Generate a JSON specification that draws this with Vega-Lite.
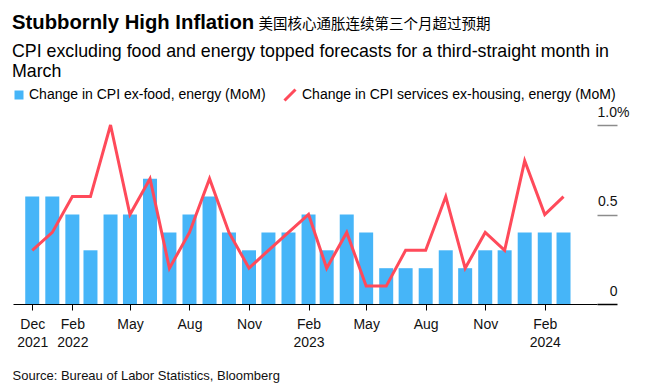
{
  "$schema": "https://vega.github.io/schema/vega-lite/v6.json",
  "autosize": "none",
  "width": 584,
  "height": 179,
  "padding": {"left": 13, "top": 125, "right": 49, "bottom": 85},
  "background": "#ffffff",
  "config": {
    "view": {"stroke": null},
    "font": "Liberation Sans"
  },
  "title": {
    "text": "Stubbornly High Inflation",
    "subtitle": ["CPI excluding food and energy topped forecasts for a third-straight month in", "March"],
    "anchor": "start",
    "frame": "group",
    "font": "Liberation Sans",
    "fontSize": 20.3,
    "fontWeight": "bold",
    "color": "#000000",
    "subtitleFont": "Liberation Sans",
    "subtitleFontSize": 17.8,
    "subtitleColor": "#000000",
    "subtitleLineHeight": 20,
    "subtitlePadding": 9,
    "offset": -64.5,
    "dx": -1
  },
  "data": {
    "values": [
      {"date": "2021-12-01T00:00:00", "core": 0.6, "services": 0.3},
      {"date": "2022-01-01T00:00:00", "core": 0.6, "services": 0.4},
      {"date": "2022-02-01T00:00:00", "core": 0.5, "services": 0.6},
      {"date": "2022-03-01T00:00:00", "core": 0.3, "services": 0.6},
      {"date": "2022-04-01T00:00:00", "core": 0.5, "services": 1.0},
      {"date": "2022-05-01T00:00:00", "core": 0.5, "services": 0.5},
      {"date": "2022-06-01T00:00:00", "core": 0.7, "services": 0.7},
      {"date": "2022-07-01T00:00:00", "core": 0.4, "services": 0.2},
      {"date": "2022-08-01T00:00:00", "core": 0.5, "services": 0.4},
      {"date": "2022-09-01T00:00:00", "core": 0.6, "services": 0.7},
      {"date": "2022-10-01T00:00:00", "core": 0.4, "services": 0.4},
      {"date": "2022-11-01T00:00:00", "core": 0.3, "services": 0.2},
      {"date": "2022-12-01T00:00:00", "core": 0.4, "services": 0.3},
      {"date": "2023-01-01T00:00:00", "core": 0.4, "services": 0.4},
      {"date": "2023-02-01T00:00:00", "core": 0.5, "services": 0.5},
      {"date": "2023-03-01T00:00:00", "core": 0.3, "services": 0.2},
      {"date": "2023-04-01T00:00:00", "core": 0.5, "services": 0.4},
      {"date": "2023-05-01T00:00:00", "core": 0.4, "services": 0.1},
      {"date": "2023-06-01T00:00:00", "core": 0.2, "services": 0.1},
      {"date": "2023-07-01T00:00:00", "core": 0.2, "services": 0.3},
      {"date": "2023-08-01T00:00:00", "core": 0.2, "services": 0.3},
      {"date": "2023-09-01T00:00:00", "core": 0.3, "services": 0.6},
      {"date": "2023-10-01T00:00:00", "core": 0.2, "services": 0.2},
      {"date": "2023-11-01T00:00:00", "core": 0.3, "services": 0.4},
      {"date": "2023-12-01T00:00:00", "core": 0.3, "services": 0.3},
      {"date": "2024-01-01T00:00:00", "core": 0.4, "services": 0.8},
      {"date": "2024-02-01T00:00:00", "core": 0.4, "services": 0.5},
      {"date": "2024-03-01T00:00:00", "core": 0.4, "services": 0.6}
    ]
  },
  "encoding": {
    "x": {
      "field": "date",
      "type": "temporal",
      "scale": {
        "domain": [
          {"year": 2021, "month": 11, "date": 9},
          {"year": 2024, "month": 4, "date": 14}
        ],
        "nice": false
      },
      "axis": {
        "values": [
          {"year": 2021, "month": 12, "date": 1},
          {"year": 2022, "month": 2, "date": 1},
          {"year": 2022, "month": 5, "date": 1},
          {"year": 2022, "month": 8, "date": 1},
          {"year": 2022, "month": 11, "date": 1},
          {"year": 2023, "month": 2, "date": 1},
          {"year": 2023, "month": 5, "date": 1},
          {"year": 2023, "month": 8, "date": 1},
          {"year": 2023, "month": 11, "date": 1},
          {"year": 2024, "month": 2, "date": 1}
        ],
        "labelExpr": "(month(datum.value) == 1 || (month(datum.value) == 11 && year(datum.value) == 2021)) ? [timeFormat(datum.value, '%b'), timeFormat(datum.value, '%Y')] : timeFormat(datum.value, '%b')",
        "labelFont": "Liberation Sans",
        "labelFontSize": 14,
        "labelColor": "#111111",
        "labelLineHeight": 18,
        "labelPadding": 7,
        "labelFlush": false,
        "labelOverlap": false,
        "domain": true,
        "domainColor": "#000000",
        "domainWidth": 1,
        "ticks": true,
        "tickColor": "#000000",
        "tickSize": 6,
        "tickWidth": 1,
        "grid": false,
        "title": "Source: Bureau of Labor Statistics, Bloomberg",
        "titleFont": "Liberation Sans",
        "titleFontSize": 13,
        "titleFontWeight": "normal",
        "titleColor": "#111111",
        "titleAnchor": "start",
        "titleAlign": "left",
        "titleBaseline": "alphabetic",
        "titleX": -1,
        "titleY": 75
      }
    }
  },
  "layer": [
    {
      "mark": {"type": "bar", "width": 14},
      "encoding": {
        "y": {
          "field": "core",
          "type": "quantitative",
          "scale": {"domain": [0, 1], "nice": false},
          "axis": {
            "orient": "right",
            "values": [0, 0.5, 1],
            "labelExpr": "datum.value == 1 ? '1.0%' : (datum.value == 0 ? '0' : '0.5')",
            "labelFont": "Liberation Sans",
            "labelFontSize": 14,
            "labelColor": "#111111",
            "labelAlign": "right",
            "labelBaseline": "alphabetic",
            "labelOffset": -9,
            "labelPadding": {"condition": {"test": "datum.value == 1", "value": 12}, "value": 0},
            "labelFlush": false,
            "domain": false,
            "grid": false,
            "ticks": true,
            "tickSize": 20,
            "tickWidth": 1.5,
            "tickColor": {"condition": {"test": "datum.value == 0", "value": "#000000"}, "value": "#8c8c8c"},
            "title": "美国核心通胀连续第三个月超过预期",
            "titleFont": "Noto Sans CJK SC",
            "titleFontSize": 14.5,
            "titleFontWeight": "normal",
            "titleColor": "#000000",
            "titleAngle": 0,
            "titleAlign": "left",
            "titleBaseline": "alphabetic",
            "titleX": -339,
            "titleY": -97
          }
        },
        "fill": {
          "datum": "Change in CPI ex-food, energy (MoM)",
          "scale": {"range": ["#46b5f8"]},
          "legend": {
            "title": null,
            "orient": "none",
            "legendX": -1,
            "legendY": -37,
            "padding": 0,
            "symbolType": "square",
            "symbolSize": 81,
            "symbolStrokeWidth": 0,
            "labelFont": "Liberation Sans",
            "labelFontSize": 14,
            "labelColor": "#000000",
            "labelOffset": 3,
            "labelLimit": 0
          }
        }
      }
    },
    {
      "mark": {"type": "line", "strokeWidth": 3, "strokeJoin": "miter"},
      "encoding": {
        "y": {"field": "services", "type": "quantitative"},
        "stroke": {
          "datum": "Change in CPI services ex-housing, energy (MoM)",
          "scale": {"range": ["#ff4a5a"]},
          "legend": {
            "title": null,
            "orient": "none",
            "legendX": 270,
            "legendY": -37,
            "padding": 0,
            "symbolType": "M-1,1L1,-1",
            "symbolSize": 121,
            "symbolStrokeWidth": 3,
            "symbolFillColor": "transparent",
            "labelFont": "Liberation Sans",
            "labelFontSize": 14,
            "labelColor": "#000000",
            "labelOffset": 5,
            "labelLimit": 0
          }
        }
      }
    }
  ],
  "resolve": {"scale": {"y": "shared"}}
}
